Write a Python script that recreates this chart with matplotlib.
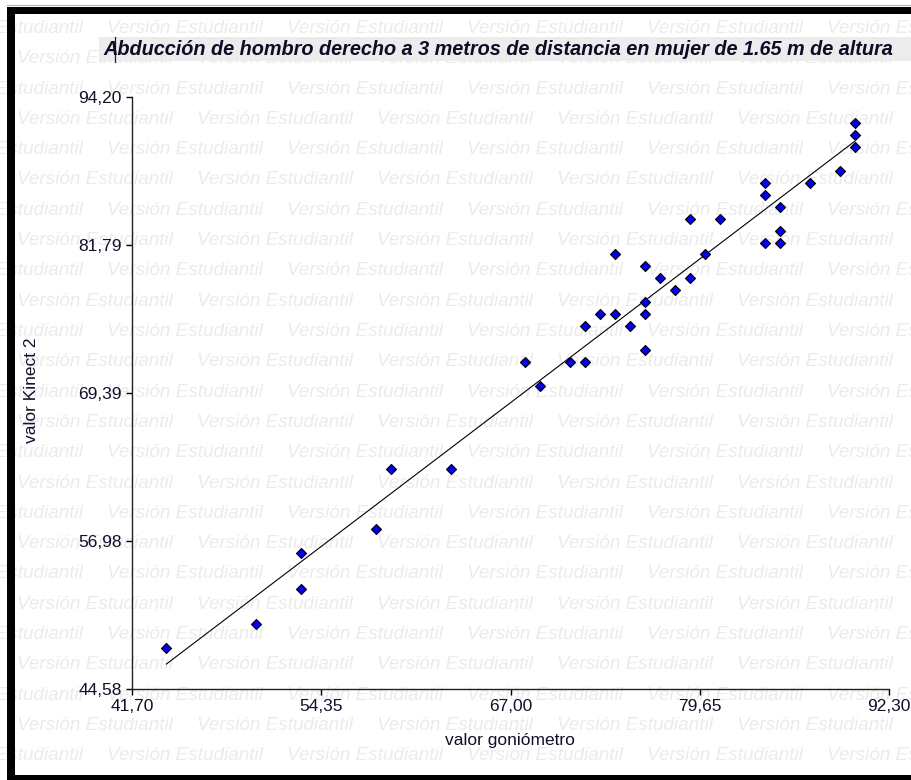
import numpy as np
import matplotlib
matplotlib.use('Agg')
import matplotlib.pyplot as plt
from matplotlib.patches import Rectangle

plt.rcParams['font.family'] = ['Liberation Sans', 'DejaVu Sans']

# goniometer vs kinect readings (degrees)
goniometro = [44, 50, 53, 53, 58, 59, 63, 69, 68, 71, 72, 76, 72, 75, 73, 74, 76,
              76, 78, 77, 79, 76, 74, 80, 84, 85, 85, 79, 81, 85, 84, 84, 87, 89,
              90, 90, 90]
kinect = [48, 50, 53, 56, 58, 63, 63, 70, 72, 72, 72, 73, 75, 75, 76, 76, 76,
          77, 78, 79, 79, 80, 81, 81, 82, 82, 83, 84, 84, 85, 86, 87, 87, 88,
          90, 91, 92]

xticks = [41.70, 54.35, 67.00, 79.65, 92.30]
yticks = [44.58, 56.98, 69.39, 81.79, 94.20]

titulo = 'Abducción de hombro derecho a 3 metros de distancia en mujer de 1.65 m de altura'
marca = 'Versión Estudiantil'

W, H = 912, 780
fig = plt.figure(figsize=(W / 100, H / 100), dpi=100)
fig.patch.set_facecolor('white')

# background layer with the watermark, in pixel units
bg = fig.add_axes([0, 0, 1, 1], zorder=0)
bg.set_xlim(0, W)
bg.set_ylim(H, 0)
bg.axis('off')
fila = 0
yy = 28.5
while yy < H + 10:
    x0 = -73 if fila % 2 == 0 else 17
    xx = x0
    while xx < W:
        bg.text(xx, yy, marca, fontsize=13.6, style='italic', color='#ebebeb',
                ha='left', va='center')
        xx += 180
    fila += 1
    yy += 30.3

# scatter plot
ax = fig.add_axes([132 / W, 1 - 689 / H, (889 - 132) / W, (689 - 97) / H], zorder=1)
ax.patch.set_alpha(0)
ax.scatter(goniometro, kinect, marker='D', s=26, facecolor='#0000ee',
           edgecolor='black', linewidth=0.8, zorder=3)

m, b = np.polyfit(goniometro, kinect, 1)
xs = np.array([min(goniometro), max(goniometro)])
ax.plot(xs, m * xs + b, color='black', linewidth=0.8, zorder=2)

ax.set_xlim(xticks[0], xticks[-1])
ax.set_ylim(yticks[0], yticks[-1])
ax.set_xticks(xticks)
ax.set_yticks(yticks)
ax.set_xticklabels([f'{v:.2f}'.replace('.', ',') for v in xticks])
ax.set_yticklabels([f'{v:.2f}'.replace('.', ',') for v in yticks])
ax.tick_params(length=4.5, width=1, labelsize=12.5, labelcolor='#10102a', pad=3)
for s in ['top', 'right']:
    ax.spines[s].set_visible(False)
for s in ['left', 'bottom']:
    ax.spines[s].set_linewidth(1)
    ax.spines[s].set_color('#222222')

fig.text(510 / W, 1 - 740 / H, 'valor goniómetro', fontsize=12.5, color='#10102a',
         ha='center', va='center')
fig.text(32 / W, 1 - 390 / H, 'valor Kinect 2', fontsize=12.5, color='#10102a',
         ha='center', va='center', rotation=90)

# frame and title band on top
fg = fig.add_axes([0, 0, 1, 1], zorder=2)
fg.set_xlim(0, W)
fg.set_ylim(H, 0)
fg.axis('off')
fg.patch.set_alpha(0)
fg.add_patch(Rectangle((99, 37), W - 99, 24, facecolor='#ececec', edgecolor='none'))
fg.text(103, 49.5, titulo, fontsize=14.3, fontweight='bold', style='italic',
        color='#0c0c24', ha='left', va='center')
fg.plot([115, 115], [37, 62], color='#1a1a50', linewidth=0.9)
fg.plot([7, W], [5, 5], color='#b0b0b0', linewidth=0.8)
fg.add_patch(Rectangle((7, 7), W - 7, 7, facecolor='black', edgecolor='none'))
fg.add_patch(Rectangle((7, 7), 8, H - 7, facecolor='black', edgecolor='none'))
fg.add_patch(Rectangle((7, 775), W - 7, 5, facecolor='black', edgecolor='none'))

fig.savefig('out.png', dpi=100)
